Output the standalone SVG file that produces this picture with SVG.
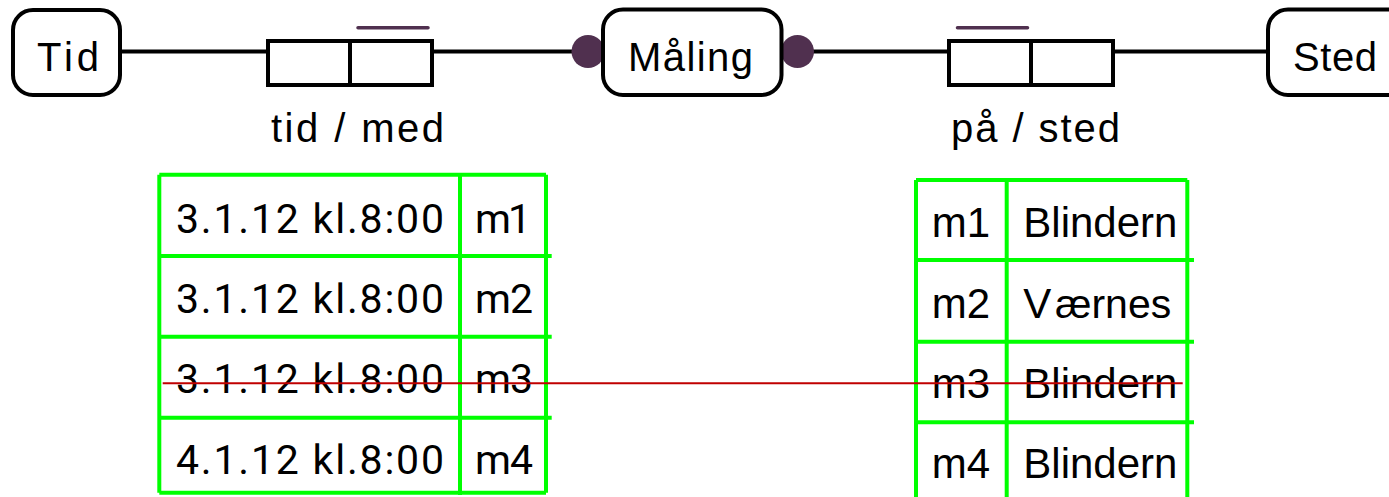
<svg xmlns="http://www.w3.org/2000/svg" width="1389" height="497" viewBox="0 0 1389 497">
<style>
.node{fill:#fff;stroke:#000;stroke-width:4}
.lbl{font-family:"Liberation Sans",Arial,sans-serif;font-size:40px;fill:#000}
.edge{stroke:#000;stroke-width:4;fill:none}
.rel{fill:#fff;stroke:#000;stroke-width:4}
.bar{stroke:#50304f;stroke-width:3.5;stroke-linecap:round}
.dot{fill:#50304f}
.g{stroke:#00ff00;stroke-width:4;fill:none}
.tl{font-family:Roboto,"Liberation Sans",sans-serif;font-size:41px;fill:#000}
.tr{font-family:"Liberation Sans",Arial,sans-serif;font-size:42px;fill:#000}
</style>
<rect width="1389" height="497" fill="#fff"/>
<g id="connectors">
<line class="edge" x1="121" y1="51.5" x2="268" y2="51.5"/>
<line class="edge" x1="432" y1="51.5" x2="575" y2="51.5"/>
<line class="edge" x1="800" y1="51.5" x2="949" y2="51.5"/>
<line class="edge" x1="1113" y1="51.5" x2="1268" y2="51.5"/>
<circle class="dot" cx="588" cy="51.5" r="16.5"/>
<circle class="dot" cx="797.5" cy="51.5" r="16.5"/>
</g>
<g id="rel-tid-med">
<rect class="rel" x="268" y="41" width="164" height="44"/>
<line class="edge" x1="350" y1="41" x2="350" y2="85"/>
<line class="bar" x1="358" y1="27.7" x2="428" y2="27.7"/>
<text class="lbl" x="271" y="141.7" textLength="173" lengthAdjust="spacing">tid / med</text>
</g>
<g id="rel-pa-sted">
<rect class="rel" x="949" y="41" width="164" height="44"/>
<line class="edge" x1="1031" y1="41" x2="1031" y2="85"/>
<line class="bar" x1="957.5" y1="27.7" x2="1027.5" y2="27.7"/>
<text class="lbl" x="951" y="141.7" textLength="169" lengthAdjust="spacing">på / sted</text>
</g>
<g id="Tid">
<rect class="node" x="13" y="10" width="107" height="85" rx="20"/>
<text class="lbl" x="37" y="70.7" textLength="62" lengthAdjust="spacing">Tid</text>
</g>
<g id="Maling">
<rect class="node" x="603" y="9.5" width="178.5" height="85.5" rx="20"/>
<text class="lbl" x="628" y="70.7" textLength="125" lengthAdjust="spacing">Måling</text>
</g>
<g id="Sted">
<rect class="node" x="1268" y="9.5" width="150" height="85.5" rx="20"/>
<text class="lbl" x="1293" y="70.7" textLength="84" lengthAdjust="spacing">Sted</text>
</g>
<g id="table-tid-med">
<line class="g" x1="159.3" y1="174.7" x2="546" y2="174.7"/>
<line class="g" x1="159.3" y1="174.7" x2="159.3" y2="492.7"/>
<line class="g" x1="546" y1="174.7" x2="546" y2="492.7"/>
<line class="g" x1="159.3" y1="492.7" x2="546" y2="492.7"/>
<line class="g" x1="460" y1="174.7" x2="460" y2="495"/>
<line class="g" x1="159.3" y1="256" x2="551.7" y2="256"/>
<line class="g" x1="159.3" y1="336.7" x2="551.7" y2="336.7"/>
<line class="g" x1="159.3" y1="417.7" x2="551.7" y2="417.7"/>
<text class="tl" x="176" y="232.7" textLength="268" lengthAdjust="spacing">3.1.12 kl.8:00</text>
<text class="tl" x="475" y="232.7" textLength="56" lengthAdjust="spacing">m1</text>
<text class="tl" x="176" y="312.7" textLength="268" lengthAdjust="spacing">3.1.12 kl.8:00</text>
<text class="tl" x="475" y="312.7" textLength="58" lengthAdjust="spacing">m2</text>
<text class="tl" x="176" y="393.3" textLength="268" lengthAdjust="spacing">3.1.12 kl.8:00</text>
<text class="tl" x="475" y="393.3" textLength="58" lengthAdjust="spacing">m3</text>
<text class="tl" x="176" y="474" textLength="268" lengthAdjust="spacing">4.1.12 kl.8:00</text>
<text class="tl" x="475" y="474" textLength="58" lengthAdjust="spacing">m4</text>
</g>
<g id="table-pa-sted">
<line class="g" x1="916" y1="180" x2="1187.3" y2="180"/>
<line class="g" x1="916" y1="180" x2="916" y2="500"/>
<line class="g" x1="1187.3" y1="180" x2="1187.3" y2="500"/>
<line class="g" x1="1006.7" y1="180" x2="1006.7" y2="500"/>
<line class="g" x1="916" y1="260" x2="1194" y2="260"/>
<line class="g" x1="916" y1="341.7" x2="1194" y2="341.7"/>
<line class="g" x1="916" y1="422.3" x2="1194" y2="422.3"/>
<text class="tr" x="931.7" y="236.7">m1</text>
<text class="tr" x="1023.3" y="236.7">Blindern</text>
<text class="tr" x="931.7" y="317.7">m2</text>
<text class="tr"><tspan x="1023.3" y="317.7">V</tspan><tspan x="1055" y="317.7" font-size="41">ærnes</tspan></text>
<text class="tr" x="931.7" y="398.3">m3</text>
<text class="tr" x="1023.3" y="398.3">Blindern</text>
<text class="tr" x="931.7" y="478.3">m4</text>
<text class="tr" x="1023.3" y="478.3">Blindern</text>
</g>
<line id="strike" x1="162.7" y1="383.3" x2="1182.7" y2="383.3" stroke="#c00000" stroke-width="2"/>
</svg>
